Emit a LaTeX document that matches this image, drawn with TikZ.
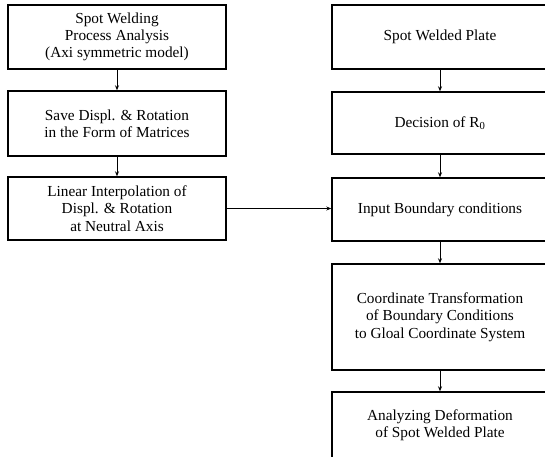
\documentclass[tikz,border=0pt]{standalone}
\usepackage{fontspec}
\setmainfont{Liberation Serif}
\usetikzlibrary{arrows.meta}
\begin{document}
\begin{tikzpicture}[x=1pt,y=-1pt,
  box/.style={draw=black, line width=1.4pt, rectangle, inner sep=0pt, align=center,
    font=\fontsize{15.3}{17.3}\selectfont},
  arr/.style={line width=0.9pt, -{Stealth[length=5pt,width=4pt]}}]
\useasboundingbox (0,0) rectangle (545,456);
\clip (0,0) rectangle (545,456);
\fill[white] (0,0) rectangle (545,456);
\node[box, minimum width=218pt, minimum height=64pt] (L1) at (117,37) {Spot Welding\\Process Analysis\\(Axi symmetric model)};
\node[box, minimum width=218pt, minimum height=65pt] (L2) at (117,123.5) {Save Displ. \& Rotation\\in the Form of Matrices};
\node[box, minimum width=218pt, minimum height=63pt] (L3) at (117,208.5) {Linear Interpolation of\\Displ. \& Rotation\\at Neutral Axis};
\node[box, minimum width=216pt, minimum height=64pt] (R1) at (440,37) {Spot Welded Plate};
\node[box, minimum width=216pt, minimum height=62pt] (R2) at (440,123) {Decision of R\textsubscript{0}};
\node[box, minimum width=216pt, minimum height=63pt] (R3) at (440,209.5) {Input Boundary conditions};
\node[box, minimum width=216pt, minimum height=106pt] (R4) at (440,317) {Coordinate Transformation\\of Boundary Conditions\\to Gloal Coordinate System};
\node[box, minimum width=216pt, minimum height=66pt] (R5) at (440,425) {Analyzing Deformation\\of Spot Welded Plate};
\draw[arr] (L1) -- (L2);
\draw[arr] (L2) -- (L3);
\draw[arr] (L3.east) -- (L3.east -| R3.west);
\draw[arr] (R1) -- (R2);
\draw[arr] (R2) -- (R3);
\draw[arr] (R3) -- (R4);
\draw[arr] (R4) -- (R5);
\end{tikzpicture}
\end{document}
